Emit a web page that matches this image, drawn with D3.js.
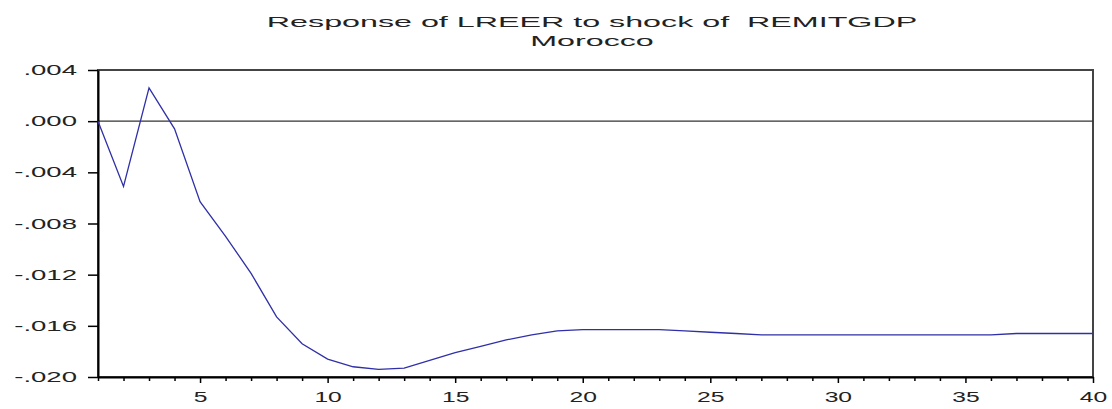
<!DOCTYPE html>
<html>
<head>
<meta charset="utf-8">
<script src="https://cdn.jsdelivr.net/npm/d3@7"></script>
<style>
  body { margin: 0; background: #fff; }
  text { font-family: "Liberation Sans", Arial, sans-serif; fill: #222; white-space: pre; }
</style>
</head>
<body>
<svg id="chart" width="1112" height="409"></svg>
<script>
// periods 1..40 and the impulse response values
var periods = d3.range(1, 41);
var response = [
  0.0000, -0.0051, 0.0026, -0.0006, -0.0063, -0.0090, -0.0119, -0.0153, -0.0174, -0.0186,
  -0.0192, -0.0194, -0.0193, -0.0187, -0.0181, -0.0176, -0.0171, -0.0167, -0.0164, -0.0163,
  -0.0163, -0.0163, -0.0163, -0.0164, -0.0165, -0.0166, -0.0167, -0.0167, -0.0167, -0.0167,
  -0.0167, -0.0167, -0.0167, -0.0167, -0.0167, -0.0167, -0.0166, -0.0166, -0.0166, -0.0166
];
var yTicks = [0.004, 0.000, -0.004, -0.008, -0.012, -0.016, -0.020];
var titleLines = ["Response of LREER to shock of  REMITGDP", "Morocco"];

var svg = d3.select("#chart");
var plotLeft = 98, plotTop = 70, plotRight = 1093, plotBottom = 377;

var x = d3.scaleLinear().domain([1, 40]).range([plotLeft, plotRight]);
var y = d3.scaleLinear().domain([-0.020, 0.004]).range([plotBottom, plotTop]);

// the picture is stretched sideways, so text gets a horizontal scale
function stretch(sel, sx) {
  sel.each(function () {
    var t = d3.select(this);
    var tx = +t.attr("x") || 0;
    var ty = +t.attr("y") || 0;
    t.attr("x", 0).attr("y", 0)
      .attr("transform", "translate(" + tx + "," + ty + ") scale(" + sx + ",1)");
  });
}

// EViews style labels: .004 and -.004
function fmt(v) {
  var s = Math.abs(v).toFixed(3).replace(/^0/, "");
  return (v < -1e-9 ? "-" : "") + s;
}

// frame
svg.append("rect")
  .attr("x", plotLeft).attr("y", plotTop)
  .attr("width", plotRight - plotLeft).attr("height", plotBottom - plotTop)
  .attr("fill", "none").attr("stroke", "#444").attr("stroke-width", 2);

// zero line
svg.append("line")
  .attr("x1", plotLeft).attr("x2", plotRight)
  .attr("y1", y(0)).attr("y2", y(0))
  .attr("stroke", "#333").attr("stroke-width", 1.2);

// y axis
var gy = svg.append("g")
  .attr("transform", "translate(" + plotLeft + ",0)")
  .call(d3.axisLeft(y).tickValues(yTicks).tickSize(10).tickPadding(11).tickSizeOuter(0).tickFormat(fmt));
gy.select(".domain").attr("stroke", "#000").attr("stroke-width", 2);
gy.selectAll(".tick line").attr("stroke", "#000").attr("stroke-width", 1.5);
gy.selectAll(".tick text").attr("font-size", 14.5).attr("font-family", null);
stretch(gy.selectAll(".tick text"), 1.9);

// x axis
var gx = svg.append("g")
  .attr("transform", "translate(0," + plotBottom + ")")
  .call(d3.axisBottom(x).tickValues(periods).tickSize(4).tickPadding(11).tickSizeOuter(0)
    .tickFormat(function (d) { return d % 5 === 0 ? d : ""; }));
gx.select(".domain").attr("stroke", "#000").attr("stroke-width", 2);
gx.selectAll(".tick line").attr("stroke", "#000").attr("stroke-width", 1.5)
  .attr("y2", function (d) { return d % 5 === 0 ? 6 : 4; });
gx.selectAll(".tick text").attr("font-size", 14.5).attr("font-family", null);
stretch(gx.selectAll(".tick text"), 1.7);

// response line
var line = d3.line()
  .x(function (d, i) { return x(periods[i]); })
  .y(function (d) { return y(d); });

svg.append("path")
  .datum(response)
  .attr("d", line)
  .attr("fill", "none")
  .attr("stroke", "#2f2fa8")
  .attr("stroke-width", 1.3);

// title
var title = svg.append("g").selectAll("text")
  .data(titleLines)
  .enter().append("text")
  .attr("x", 592)
  .attr("y", function (d, i) { return 27 + i * 19; })
  .attr("text-anchor", "middle")
  .attr("font-size", 15)
  .text(function (d) { return d; });
stretch(title, 2.15);
</script>
</body>
</html>
